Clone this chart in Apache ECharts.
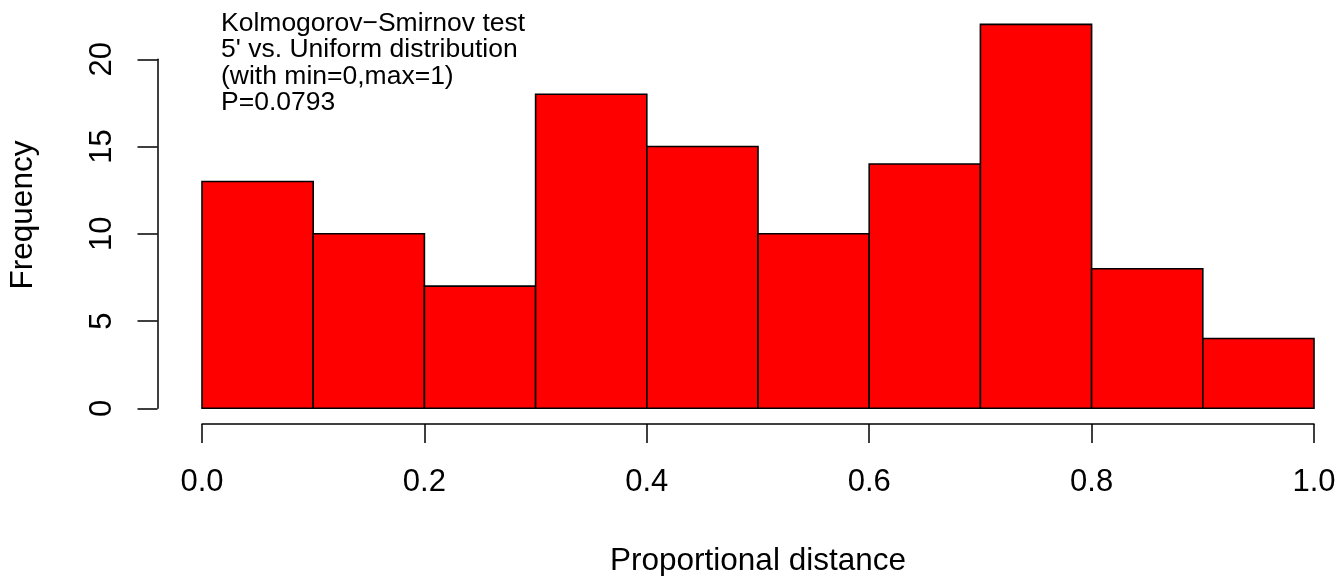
<!DOCTYPE html>
<html>
<head>
<meta charset="utf-8">
<script src="https://cdn.jsdelivr.net/npm/echarts@6/dist/echarts.min.js"></script>
<style>
html,body{margin:0;padding:0;background:#fff;}
#chart{width:1340px;height:576px;}
</style>
</head>
<body>
<div id="chart"></div>
<script>
var binStarts = [0.0, 0.1, 0.2, 0.3, 0.4, 0.5, 0.6, 0.7, 0.8, 0.9];
var binEnds   = [0.1, 0.2, 0.3, 0.4, 0.5, 0.6, 0.7, 0.8, 0.9, 1.0];
var counts    = [13, 10, 7, 18, 15, 10, 14, 22, 8, 4];
var yTicks    = [0, 5, 10, 15, 20];
var xTicks    = [0.0, 0.2, 0.4, 0.6, 0.8, 1.0];
var annotation = ["Kolmogorov\u2212Smirnov test", "5' vs. Uniform distribution", "(with min=0,max=1)", "P=0.0793"];
var xTitle = "Proportional distance";
var yTitle = "Frequency";

var FONT = "Liberation Sans";
var histData = binStarts.map(function (s, i) { return [s, binEnds[i], counts[i]]; });

var chart = echarts.init(document.getElementById('chart'), null, {renderer: 'canvas'});
var option = {
  backgroundColor: '#ffffff',
  animation: false,
  grid: [
    {left: 202, right: 26, top: 24.4, bottom: 167.7},
    {left: 157.5, width: 10, top: 59.3, bottom: 167.7},
    {left: 202, right: 26, top: 300, bottom: 152}
  ],
  xAxis: [
    {gridIndex: 0, type: 'value', min: 0, max: 1, show: false},
    {gridIndex: 1, type: 'value', min: 0, max: 1, show: false},
    {gridIndex: 2, type: 'value', min: xTicks[0], max: xTicks[xTicks.length - 1], interval: 0.2,
     axisLine: {show: true, lineStyle: {color: '#000', width: 1.5}},
     axisTick: {show: true, length: 19, lineStyle: {color: '#000', width: 1.5}},
     axisLabel: {show: true, margin: 43, color: '#000', fontSize: 31, fontFamily: FONT,
                 formatter: function (v) { return v.toFixed(1); }},
     splitLine: {show: false}}
  ],
  yAxis: [
    {gridIndex: 0, type: 'value', min: 0, max: 22, show: false},
    {gridIndex: 1, type: 'value', min: yTicks[0], max: yTicks[yTicks.length - 1], interval: 5,
     axisLine: {show: true, lineStyle: {color: '#000', width: 1.5}},
     axisTick: {show: true, length: 20, lineStyle: {color: '#000', width: 1.5}},
     axisLabel: {show: true, rotate: 90, margin: 40, color: '#000', fontSize: 31, fontFamily: FONT},
     splitLine: {show: false}},
    {gridIndex: 2, type: 'value', show: false}
  ],
  series: [{
    type: 'custom',
    xAxisIndex: 0,
    yAxisIndex: 0,
    data: histData,
    encode: {x: [0, 1], y: 2},
    renderItem: function (params, api) {
      var p0 = api.coord([api.value(0), api.value(2)]);
      var p1 = api.coord([api.value(1), 0]);
      return {
        type: 'rect',
        shape: {x: p0[0], y: p0[1], width: p1[0] - p0[0], height: p1[1] - p0[1]},
        style: {fill: '#ff0000', stroke: '#000000', lineWidth: 1.6}
      };
    }
  }],
  graphic: [
    {type: 'text', left: 221, top: 10,
     style: {text: annotation.join('\n'), font: '26.5px "' + FONT + '"', fill: '#000', lineHeight: 26.5}},
    {type: 'text', x: 758, y: 561,
     style: {text: xTitle, font: '31.5px "' + FONT + '"', fill: '#000', align: 'center', verticalAlign: 'middle'}},
    {type: 'text', x: 23.5, y: 215, rotation: Math.PI / 2,
     style: {text: yTitle, font: '31.5px "' + FONT + '"', fill: '#000', align: 'center', verticalAlign: 'middle'}}
  ]
};
chart.setOption(option);
</script>
</body>
</html>
